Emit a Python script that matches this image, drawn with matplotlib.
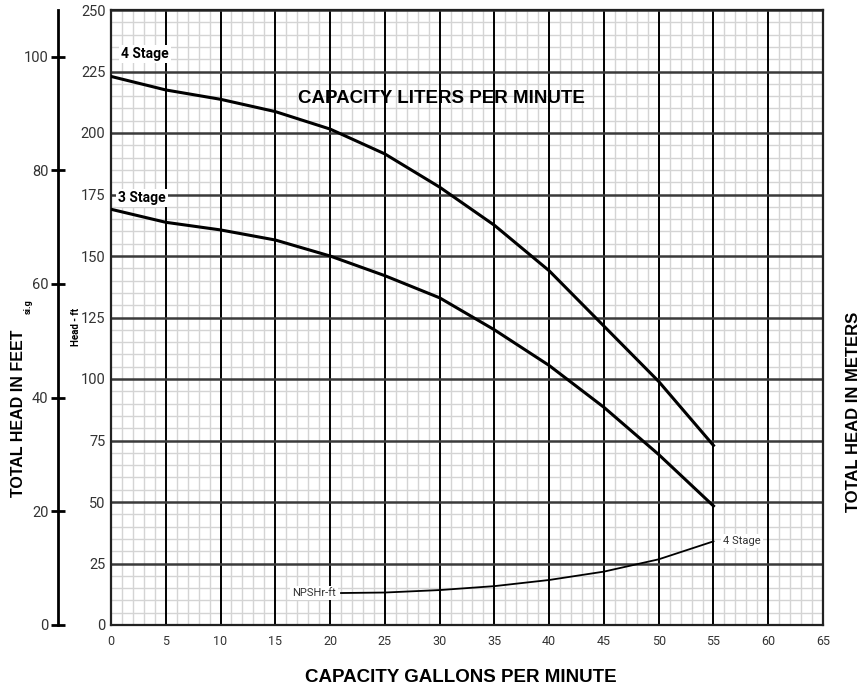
import numpy as np
import matplotlib.pyplot as plt
from matplotlib.ticker import MultipleLocator

# capacity (gpm) and head (ft)
gpm = [0, 5, 10, 15, 20, 25, 30, 35, 40, 45, 50, 55]
stage4 = [223, 217.5, 213.7, 208.7, 201.6, 191.5, 178, 162.5, 144, 121.5, 99, 73]
stage3 = [169, 163.7, 160.6, 156.5, 150, 142, 133, 120, 105.5, 88.5, 69.3, 48.4]

npsh_gpm = [21, 25, 30, 35, 40, 45, 50, 55]
npsh_ft = [13, 13.2, 14.2, 15.8, 18.3, 21.7, 26.7, 34]

x_ticks = np.arange(0, 70, 5)
y_ticks = np.arange(0, 275, 25)
feet_ticks = [0, 20, 40, 60, 80, 100]

plt.rcParams['font.family'] = ['Roboto', 'DejaVu Sans']

fig = plt.figure(figsize=(8.62, 6.9), dpi=100)
ax = fig.add_axes([111 / 862, 65 / 690, 712 / 862, 615 / 690])

ax.set_xlim(0, 65)
ax.set_ylim(0, 250)
ax.set_xticks(x_ticks)
ax.set_yticks(y_ticks)
ax.xaxis.set_minor_locator(MultipleLocator(1))
ax.yaxis.set_minor_locator(MultipleLocator(5))

# light minor grid, then heavier major lines on top
ax.grid(which='minor', color='#d4d4d4', linewidth=1)
ax.set_axisbelow(True)
for xv in x_ticks:
    ax.axvline(xv, color='black', linewidth=1.4, zorder=1)
for yv in y_ticks:
    ax.axhline(yv, color='#3a3a3a', linewidth=1.8, zorder=1.1)
for s in ax.spines.values():
    s.set_color('#222222')
    s.set_linewidth(1.6)

ax.tick_params(which='both', length=0)
ax.tick_params(axis='y', labelsize=10.5, labelcolor='#333333', pad=4)
ax.tick_params(axis='x', labelsize=9, labelcolor='#333333', pad=7)

ax.plot(gpm, stage4, color='black', linewidth=2.2, zorder=3)
ax.plot(gpm, stage3, color='black', linewidth=2.2, zorder=3)
ax.plot(npsh_gpm, npsh_ft, color='black', linewidth=1.3, zorder=3)

box = dict(facecolor='white', edgecolor='none', pad=1.5)
ax.text(0.9, 232, '4 Stage', fontsize=10, fontweight='bold', va='center', ha='left', bbox=box, zorder=4)
ax.text(0.65, 173.5, '3 Stage', fontsize=10, fontweight='bold', va='center', ha='left', bbox=box, zorder=4)
ax.text(20.5, 13, 'NPSHr-ft', fontsize=8, va='center', ha='right', color='#333333', bbox=box, zorder=4)
ax.text(55.9, 34, '4 Stage', fontsize=8, va='center', ha='left', color='#333333', bbox=box, zorder=4)

ax.text(30.2, 214, 'CAPACITY LITERS PER MINUTE', fontsize=13.5, fontweight='bold',
        family='Liberation Sans', ha='center', va='center', zorder=4)

# feet axis on the left
feet = ax.secondary_yaxis(-53 / 712, functions=(lambda h: h / 2.3105, lambda f: f * 2.3105))
feet.set_yticks(feet_ticks)
feet.spines['left'].set_linewidth(2)
feet.spines['left'].set_color('black')
feet.tick_params(direction='inout', length=10, width=2, labelsize=10.5,
                 labelcolor='#333333', pad=2)

fig.text(18.5 / 862, 1 - 413 / 690, 'TOTAL HEAD IN FEET', rotation=90, fontsize=11.5,
         fontweight='bold', family='Liberation Sans', ha='center', va='center')
fig.text(28 / 862, 1 - 307 / 690, 'si.g', rotation=90, fontsize=6.5,
         fontweight='bold', ha='center', va='center')
fig.text(76.5 / 862, 1 - 327 / 690, 'Head - ft', rotation=90, fontsize=7,
         fontweight='bold', ha='center', va='center')
fig.text(854 / 862, 1 - 412 / 690, 'TOTAL HEAD IN METERS', rotation=90, fontsize=12,
         fontweight='bold', family='Liberation Sans', ha='center', va='center')
fig.text(461 / 862, 1 - 678 / 690, 'CAPACITY GALLONS PER MINUTE', fontsize=13.5,
         fontweight='bold', family='Liberation Sans', ha='center', va='center')

fig.savefig('out.png', dpi=100)
